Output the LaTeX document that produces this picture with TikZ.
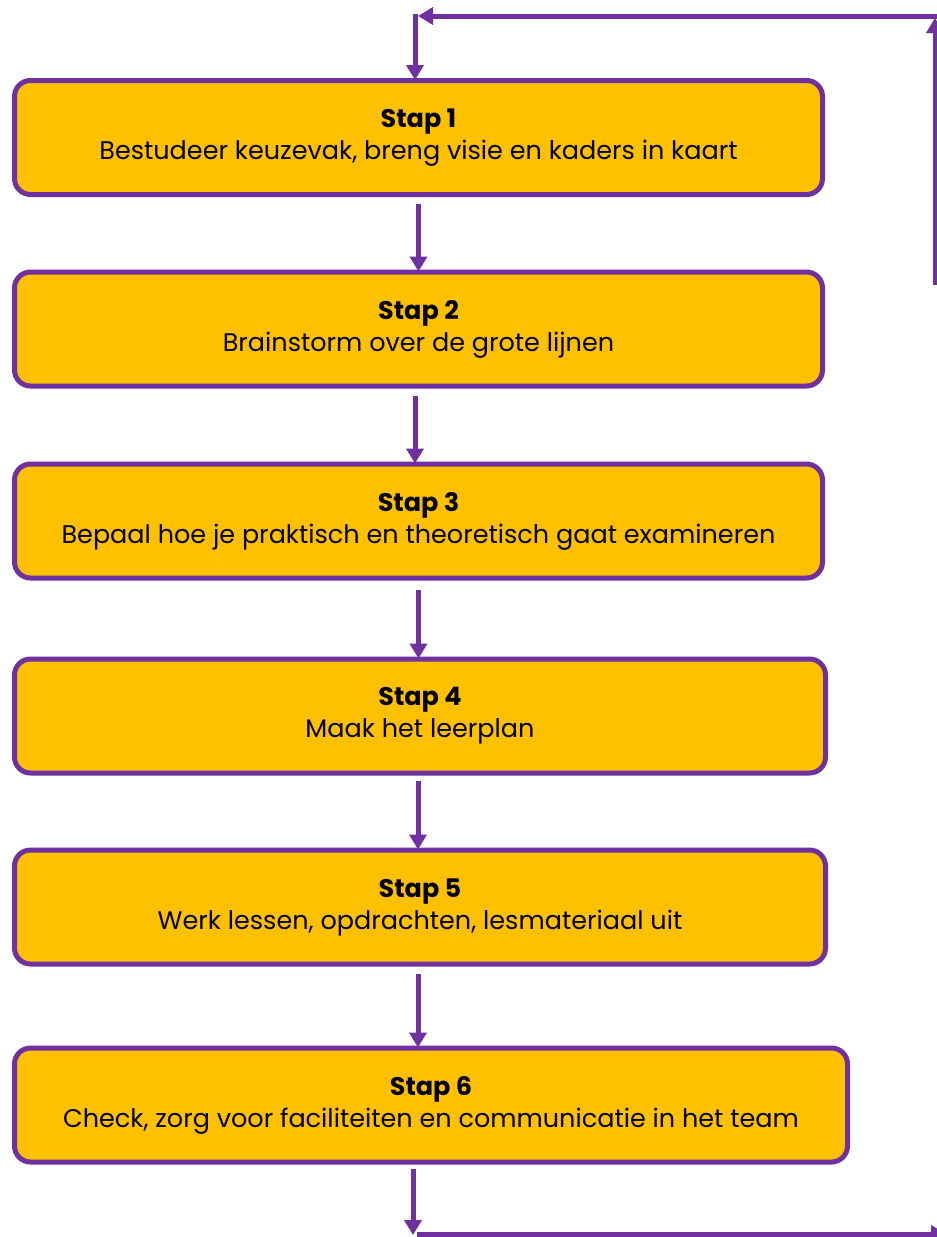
\documentclass[tikz,border=0pt]{standalone}
\usepackage{fontspec}
\setmainfont{Poppins}
\usetikzlibrary{arrows.meta,calc}
\definecolor{gold}{HTML}{FFC000}
\definecolor{purp}{HTML}{7030A0}
\tikzset{
  stepbox/.style={rectangle, draw=purp, line width=5pt, fill=gold, rounded corners=16pt,
    minimum height=114pt, align=center, inner sep=0pt,
    font=\fontsize{25.5}{32}\selectfont, text=black},
  arr/.style={draw=purp, line width=5pt, -{Triangle[length=15pt,width=17pt]}}
}
\begin{document}
\begin{tikzpicture}[x=1pt,y=-1pt]
\useasboundingbox (0,0) rectangle (937,1237);
\node[stepbox, minimum width=808pt] (b1) at (418.5,137.5) {\textbf{Stap 1}\\Bestudeer keuzevak, breng visie en kaders in kaart};
\node[stepbox, minimum width=808pt] (b2) at (418.5,329) {\textbf{Stap 2}\\Brainstorm over de grote lijnen};
\node[stepbox, minimum width=808pt] (b3) at (418.5,521) {\textbf{Stap 3}\\Bepaal hoe je praktisch en theoretisch gaat examineren};
\node[stepbox, minimum width=811pt] (b4) at (420,716) {\textbf{Stap 4}\\Maak het leerplan};
\node[stepbox, minimum width=811pt] (b5) at (420,907) {\textbf{Stap 5}\\Werk lessen, opdrachten, lesmateriaal uit};
\node[stepbox, minimum width=833pt] (b6) at (431,1105) {\textbf{Stap 6}\\Check, zorg voor faciliteiten en communicatie in het team};
% between boxes
\draw[arr, shorten <=7pt, shorten >=-2pt] (b1.south) -- (b2.north);
\draw[arr, shorten <=7pt, shorten >=-2pt] (b2.south -| 415,0) -- (b3.north -| 415,0);
\draw[arr, shorten <=9pt, shorten >=-2pt] (b3.south) -- (b4.north -| b3.south);
\draw[arr, shorten <=5pt, shorten >=-2pt] (b4.south -| 418,0) -- (b5.north -| 418,0);
\draw[arr, shorten <=7pt, shorten >=-2pt] (b5.south -| 418,0) -- (b6.north -| 418,0);
% feedback loop
\coordinate (bd) at (413,1235);
\coordinate (br) at (946,1234);
\coordinate (rb) at (935,285);
\coordinate (rt) at (935,18);
\coordinate (tr) at (937,16);
\coordinate (tl) at (418,16);
\coordinate (td) at (415,14);
\draw[arr, shorten <=4pt] (b6.south -| bd) -- (bd);
\draw[arr] (417,1234) -- (br);
\draw[arr] (rb) -- (rt);
\draw[arr] (tr) -- (tl);
\draw[arr, shorten >=-2pt] (td) -- (b1.north -| td);
\end{tikzpicture}
\end{document}
